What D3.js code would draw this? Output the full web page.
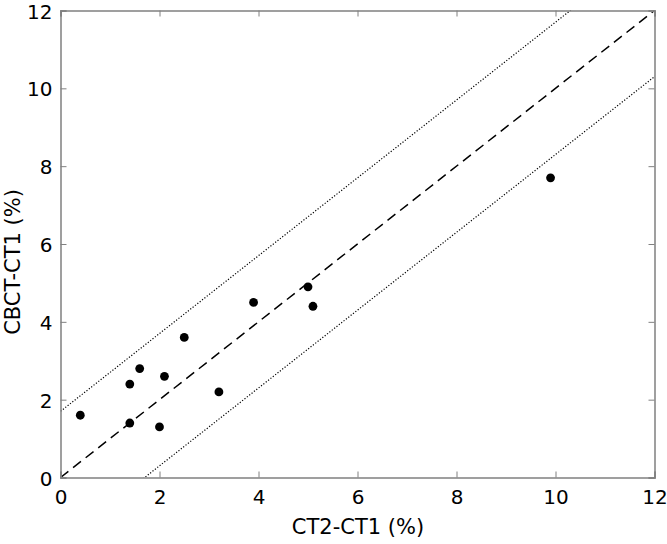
<!DOCTYPE html>
<html><head><meta charset="utf-8">
<script src="https://cdn.jsdelivr.net/npm/d3@7"></script>
<style>body{margin:0;background:#fff}svg{display:block}text{font-family:"DejaVu Sans",Verdana,sans-serif;fill:#000}</style>
</head><body>
<svg id="c" width="667" height="544"></svg>
<script>
const xValues = [0.4, 1.4, 1.6, 1.4, 2.1, 2.0, 2.5, 3.2, 3.9, 5.0, 5.1, 9.9];
const yValues = [1.6, 2.4, 2.8, 1.4, 2.6, 1.3, 3.6, 2.2, 4.5, 4.9, 4.4, 7.7];
const tickValues = [0, 2, 4, 6, 8, 10, 12];
const limitOffset = 1.7;
const xLabel = "CT2-CT1 (%)";
const yLabel = "CBCT-CT1 (%)";

const svg = d3.select("#c");
const L = 60.5, R = 654.5, T = 10.5, B = 477.5;
const x = d3.scaleLinear().domain([0, 12]).range([L, R]);
const y = d3.scaleLinear().domain([0, 12]).range([B, T]);

svg.append("defs").append("clipPath").attr("id", "clip")
  .append("rect").attr("x", L).attr("y", T).attr("width", R - L).attr("height", B - T);

const g = svg.append("g").attr("clip-path", "url(#clip)");
const line = d3.line().x(d => x(d[0])).y(d => y(d[1]));
g.append("path").attr("d", line([[0, 0], [12, 12]]))
  .attr("fill", "none").attr("stroke", "#000").attr("stroke-width", 1.5).attr("stroke-dasharray", "10,6");
[limitOffset, -limitOffset].forEach(o => {
  g.append("path").attr("d", line([[-2, -2 + o], [14, 14 + o]]))
    .attr("fill", "none").attr("stroke", "#000").attr("stroke-width", 1.2).attr("stroke-dasharray", "1.2,1.8");
});

const gray = "#808080";
const axB = d3.axisBottom(x).tickValues(tickValues).tickSize(-6).tickPadding(12);
const axT = d3.axisTop(x).tickValues(tickValues).tickSize(-6).tickFormat("");
const axL = d3.axisLeft(y).tickValues(tickValues).tickSize(-6).tickPadding(8);
const axR = d3.axisRight(y).tickValues(tickValues).tickSize(-6).tickFormat("");
function style(sel) {
  sel.selectAll(".domain").attr("stroke", gray).attr("stroke-width", 1.5);
  sel.selectAll(".tick line").attr("stroke", gray);
  sel.selectAll(".tick text").attr("font-size", 20).attr("fill", "#000")
     .style("font-family", '"DejaVu Sans",Verdana,sans-serif');
}
svg.append("g").attr("transform", `translate(0,${B})`).call(axB).call(style);
svg.append("g").attr("transform", `translate(0,${T})`).call(axT).call(style);
const gl = svg.append("g").attr("transform", `translate(${L},0)`).call(axL).call(style);
gl.selectAll(".tick text").attr("dy", "0.38em");
svg.append("g").attr("transform", `translate(${R},0)`).call(axR).call(style);

svg.append("g").selectAll("circle").data(xValues.map((v, i) => [v, yValues[i]]))
  .join("circle").attr("cx", d => x(d[0])).attr("cy", d => y(d[1])).attr("r", 4.4).attr("fill", "#000");

svg.append("text").attr("x", 358).attr("y", 534).attr("text-anchor", "middle")
  .attr("font-size", 21).text(xLabel);
svg.append("text").attr("transform", `translate(20,262) rotate(-90)`)
  .attr("text-anchor", "middle").attr("font-size", 21).text(yLabel);
</script>
</body></html>
